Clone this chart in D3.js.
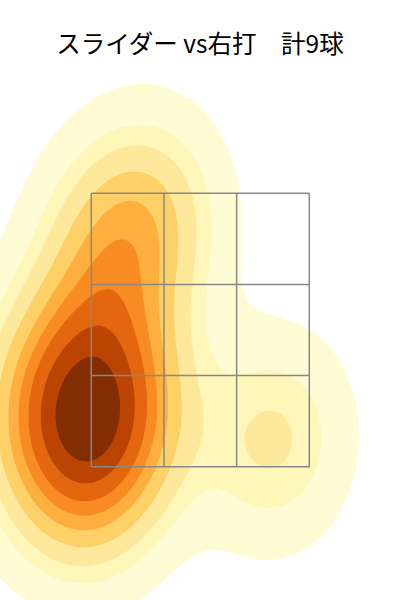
<!DOCTYPE html>
<html>
<head>
<meta charset="utf-8">
<script src="https://cdn.jsdelivr.net/npm/d3@7"></script>
<style>
  body { margin: 0; background: #fff; }
  svg { display: block; }
</style>
</head>
<body>
<div id="chart"></div>
<script>
// pitch locations (ft), catcher view
const pitchX = [0.555, -0.383, -0.687, -0.802, -1.145, -0.626, -1.107, -0.649, -0.878];
const pitchZ = [1.705, 3.433, 3.203, 2.435, 2.127, 2.051, 1.705, 1.705, 1.359];
const zoneX = [-0.83, 0.83];
const zoneZ = [1.5, 3.6];
const titleText = 'スライダー vs右打　計9球';
const levelCount = 10;
const thresh = 0.05;
const bwAdjust = 1.1;

const width = 400, height = 600;

const svg = d3.select('#chart').append('svg')
    .attr('width', width)
    .attr('height', height);

const x = d3.scaleLinear().domain(zoneX).range([91.3, 309.3]);
const y = d3.scaleLinear().domain(zoneZ).range([466.7, 193.3]);

// gaussian kde (scott factor, full covariance) in pixel space
const pts = pitchX.map((d, i) => [x(d), y(pitchZ[i])]);
const n = pts.length;
const mx = d3.mean(pts, d => d[0]), my = d3.mean(pts, d => d[1]);
let sxx = 0, syy = 0, sxy = 0;
pts.forEach(p => {
    sxx += (p[0] - mx) ** 2;
    syy += (p[1] - my) ** 2;
    sxy += (p[0] - mx) * (p[1] - my);
});
const f2 = Math.pow(n, -2 / 6) * bwAdjust * bwAdjust;
const hxx = sxx / (n - 1) * f2, hyy = syy / (n - 1) * f2, hxy = sxy / (n - 1) * f2;
const det = hxx * hyy - hxy * hxy;
const ixx = hyy / det, iyy = hxx / det, ixy = -hxy / det;
const norm = 1 / (2 * Math.PI * Math.sqrt(det) * n);

const bwx = Math.sqrt(hxx), bwy = Math.sqrt(hyy);
const x0 = d3.min(pts, d => d[0]) - 3 * bwx, x1 = d3.max(pts, d => d[0]) + 3 * bwx;
const y0 = d3.min(pts, d => d[1]) - 3 * bwy, y1 = d3.max(pts, d => d[1]) + 3 * bwy;
const grid = 200;
const cw = (x1 - x0) / grid, ch = (y1 - y0) / grid;

const values = new Float64Array(grid * grid);
for (let j = 0; j < grid; j++) {
    const py = y0 + (j + 0.5) * ch;
    for (let i = 0; i < grid; i++) {
        const px = x0 + (i + 0.5) * cw;
        let s = 0;
        pts.forEach(p => {
            const dx = px - p[0], dy = py - p[1];
            s += Math.exp(-0.5 * (ixx * dx * dx + 2 * ixy * dx * dy + iyy * dy * dy));
        });
        values[j * grid + i] = s * norm;
    }
}

// iso-proportion levels like seaborn
const sorted = Array.from(values).sort((a, b) => b - a);
const total = d3.sum(sorted);
const cum = [];
let acc = 0;
sorted.forEach(v => { acc += v; cum.push(acc / total); });
const levels = d3.range(levelCount).map(k => {
    const p = thresh + k * (1 - thresh) / (levelCount - 1);
    const idx = Math.min(d3.bisectLeft(cum, 1 - p), sorted.length - 1);
    return sorted[idx];
}).sort((a, b) => a - b);

const cmap = d3.piecewise(d3.interpolateRgb, d3.schemeYlOrBr[9]);
const layerColor = k => {
    const mid = (levels[k] + levels[k + 1]) / 2;
    return cmap((mid - levels[0]) / (levels[levelCount - 1] - levels[0]));
};

const contours = d3.contours()
    .size([grid, grid])
    .thresholds(levels.slice(0, levelCount - 1))(values);

const toPx = d3.geoTransform({
    point: function(a, b) { this.stream.point(x0 + a * cw, y0 + b * ch); }
});

svg.append('g')
    .selectAll('path')
    .data(contours)
    .join('path')
    .attr('d', d3.geoPath(toPx))
    .attr('fill', (d, i) => layerColor(i))
    .attr('stroke', 'none');

// strike zone 3x3
const zone = svg.append('g')
    .attr('fill', 'none')
    .attr('stroke', '#888')
    .attr('stroke-width', 1.5);
const colEdges = d3.range(4).map(k => zoneX[0] + k * (zoneX[1] - zoneX[0]) / 3);
const rowEdges = d3.range(4).map(k => zoneZ[0] + k * (zoneZ[1] - zoneZ[0]) / 3);
zone.selectAll('.v').data(colEdges).join('line')
    .attr('x1', d => x(d)).attr('x2', d => x(d))
    .attr('y1', y(zoneZ[0])).attr('y2', y(zoneZ[1]));
zone.selectAll('.h').data(rowEdges).join('line')
    .attr('y1', d => y(d)).attr('y2', d => y(d))
    .attr('x1', x(zoneX[0])).attr('x2', x(zoneX[1]));

svg.append('text')
    .attr('x', width / 2)
    .attr('y', 53)
    .attr('text-anchor', 'middle')
    .style('font-family', '"Noto Sans CJK JP", "Noto Sans", sans-serif')
    .style('font-size', '24.5px')
    .style('white-space', 'pre')
    .attr('fill', '#000')
    .text(titleText);
</script>
</body>
</html>
